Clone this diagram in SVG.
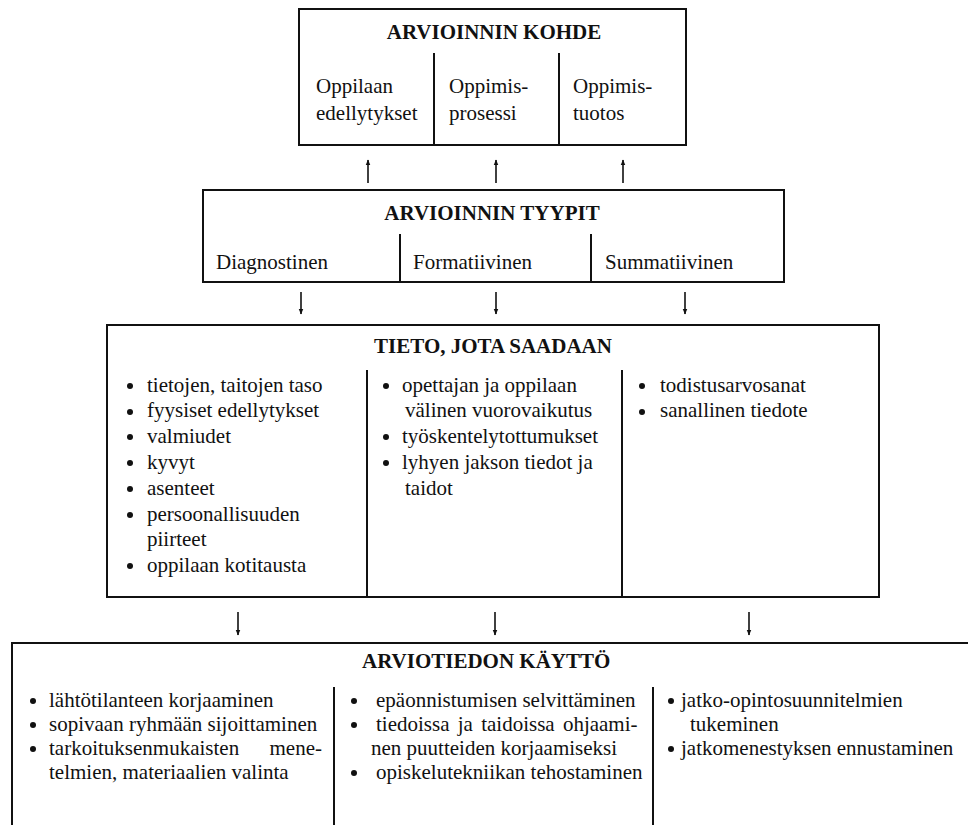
<svg xmlns="http://www.w3.org/2000/svg" width="968" height="825" viewBox="0 0 968 825">
<defs>
<style>
.box{fill:#fff;stroke:#111;stroke-width:2}
.div{stroke:#111;stroke-width:2;fill:none}
.t{font-family:"Liberation Serif","Times New Roman",serif;font-size:21px;fill:#111}
.h{font-family:"Liberation Serif","Times New Roman",serif;font-size:21px;font-weight:bold;fill:#111}
.b{fill:#111}
.arr{stroke:#111;stroke-width:1.6;fill:none;marker-end:url(#ah)}
</style>
<marker id="ah" viewBox="0 0 10 10" refX="9" refY="5" markerWidth="6" markerHeight="6" orient="auto" markerUnits="userSpaceOnUse">
<path d="M0,1 L10,5 L0,9 Z" fill="#111"/>
</marker>
</defs>
<rect width="968" height="825" fill="#fff"/>

<g id="kohde">
<rect class="box" x="299" y="9" width="387" height="136"/>
<line class="div" x1="434" y1="53" x2="434" y2="145"/>
<line class="div" x1="559" y1="53" x2="559" y2="145"/>
<text class="h" x="494" y="39" text-anchor="middle">ARVIOINNIN KOHDE</text>
<text class="t" x="316" y="93">Oppilaan</text>
<text class="t" x="316" y="120">edellytykset</text>
<text class="t" x="449" y="93">Oppimis-</text>
<text class="t" x="449" y="120">prosessi</text>
<text class="t" x="573" y="93">Oppimis-</text>
<text class="t" x="573" y="120">tuotos</text>
</g>

<g id="tyypit">
<rect class="box" x="203" y="190" width="581" height="92"/>
<line class="div" x1="400" y1="234" x2="400" y2="282"/>
<line class="div" x1="591" y1="234" x2="591" y2="282"/>
<text class="h" x="492" y="220" text-anchor="middle">ARVIOINNIN TYYPIT</text>
<text class="t" x="216" y="269">Diagnostinen</text>
<text class="t" x="413" y="269">Formatiivinen</text>
<text class="t" x="605" y="269">Summatiivinen</text>
</g>

<g id="tieto">
<rect class="box" x="107" y="325" width="772" height="272"/>
<line class="div" x1="367" y1="370" x2="367" y2="597"/>
<line class="div" x1="622" y1="370" x2="622" y2="597"/>
<text class="h" x="493" y="353" text-anchor="middle">TIETO, JOTA SAADAAN</text>
<circle class="b" cx="130" cy="386" r="3"/>
<text class="t" x="147" y="392">tietojen, taitojen taso</text>
<circle class="b" cx="130" cy="412" r="3"/>
<text class="t" x="147" y="417">fyysiset edellytykset</text>
<circle class="b" cx="130" cy="437" r="3"/>
<text class="t" x="147" y="443">valmiudet</text>
<circle class="b" cx="130" cy="463" r="3"/>
<text class="t" x="147" y="469">kyvyt</text>
<circle class="b" cx="130" cy="489" r="3"/>
<text class="t" x="147" y="495">asenteet</text>
<circle class="b" cx="130" cy="515" r="3"/>
<text class="t" x="147" y="521">persoonallisuuden</text>
<text class="t" x="147" y="546">piirteet</text>
<circle class="b" cx="130" cy="566" r="3"/>
<text class="t" x="147" y="572">oppilaan kotitausta</text>

<circle class="b" cx="386" cy="386" r="3"/>
<text class="t" x="402" y="392">opettajan ja oppilaan</text>
<text class="t" x="405" y="417">välinen vuorovaikutus</text>
<circle class="b" cx="386" cy="437" r="3"/>
<text class="t" x="402" y="443">työskentelytottumukset</text>
<circle class="b" cx="386" cy="463" r="3"/>
<text class="t" x="402" y="469">lyhyen jakson tiedot ja</text>
<text class="t" x="405" y="495">taidot</text>

<circle class="b" cx="642" cy="386" r="3"/>
<text class="t" x="660" y="392">todistusarvosanat</text>
<circle class="b" cx="642" cy="412" r="3"/>
<text class="t" x="660" y="417">sanallinen tiedote</text>
</g>

<g id="kaytto">
<path class="div" d="M12,825 V643 H968"/>
<line class="div" x1="334" y1="687" x2="334" y2="825"/>
<line class="div" x1="653" y1="687" x2="653" y2="825"/>
<text class="h" x="362" y="668">ARVIOTIEDON KÄYTTÖ</text>
<circle class="b" cx="33" cy="701" r="3"/>
<text class="t" x="49" y="707">lähtötilanteen korjaaminen</text>
<circle class="b" cx="33" cy="725" r="3"/>
<text class="t" x="49" y="731">sopivaan ryhmään sijoittaminen</text>
<circle class="b" cx="33" cy="749" r="3"/>
<text class="t" x="49" y="755">tarkoituksenmukaisten</text>
<text class="t" x="322" y="755" text-anchor="end">mene-</text>
<text class="t" x="49" y="779">telmien, materiaalien valinta</text>

<circle class="b" cx="354" cy="701" r="3"/>
<text class="t" x="376" y="707">epäonnistumisen selvittäminen</text>
<circle class="b" cx="354" cy="725" r="3"/>
<text class="t" x="376" y="731" word-spacing="3">tiedoissa ja taidoissa ohjaami-</text>
<text class="t" x="371" y="755">nen puutteiden korjaamiseksi</text>
<circle class="b" cx="354" cy="773" r="3"/>
<text class="t" x="376" y="779">opiskelutekniikan tehostaminen</text>

<circle class="b" cx="671" cy="701" r="3"/>
<text class="t" x="681" y="707">jatko-opintosuunnitelmien</text>
<text class="t" x="690" y="731">tukeminen</text>
<circle class="b" cx="671" cy="749" r="3"/>
<text class="t" x="681" y="755">jatkomenestyksen ennustaminen</text>
</g>

<g id="connectors">
<line class="arr" x1="368" y1="183" x2="368" y2="160"/>
<line class="arr" x1="496" y1="183" x2="496" y2="160"/>
<line class="arr" x1="623" y1="183" x2="623" y2="160"/>
<line class="arr" x1="301" y1="292" x2="301" y2="314"/>
<line class="arr" x1="496" y1="292" x2="496" y2="314"/>
<line class="arr" x1="685" y1="292" x2="685" y2="314"/>
<line class="arr" x1="238" y1="612" x2="238" y2="635"/>
<line class="arr" x1="495" y1="612" x2="495" y2="635"/>
<line class="arr" x1="749" y1="612" x2="749" y2="635"/>
</g>
</svg>
